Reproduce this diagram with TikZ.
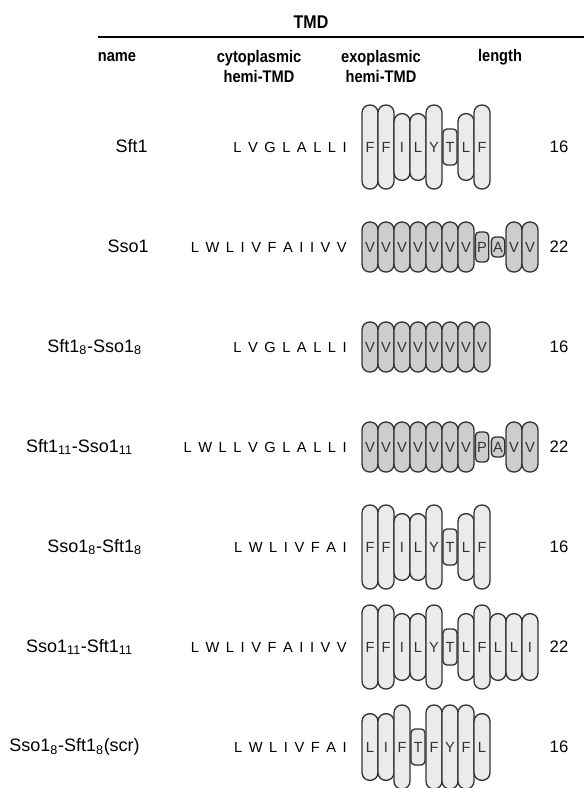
\documentclass[tikz,border=0pt]{standalone}
\usepackage{fontspec}
\setmainfont{Liberation Sans}
\newfontfamily\headfont[FakeStretch=0.87]{Liberation Sans}
\definecolor{pilllight}{RGB}{235,235,235}
\definecolor{pilldark}{RGB}{205,205,205}
\definecolor{pillline}{RGB}{50,50,50}
\tikzset{
  pill/.style={draw=pillline, line width=1pt, fill=pilllight, rounded corners=5.8pt,
    minimum width=12pt, inner sep=0pt, text=black!80, font=\fontsize{11}{12}\selectfont},
  dark/.style={fill=pilldark},
  res/.style={h#1},
  hF/.style={minimum height=63pt},
  hY/.style={minimum height=63pt},
  hI/.style={minimum height=50pt},
  hL/.style={minimum height=50pt},
  hV/.style={minimum height=37.5pt},
  hT/.style={minimum height=27pt, minimum width=10.5pt, rounded corners=3pt},
  hP/.style={minimum height=22.5pt, minimum width=10pt, rounded corners=3pt},
  hA/.style={minimum height=15pt, minimum width=10pt, rounded corners=3pt},
  seq/.style={anchor=east, inner sep=0pt, font=\fontsize{11}{13}\selectfont,
    execute at begin node={\spaceskip=4.9pt\relax}},
  rowname/.style={anchor=east, inner sep=0pt, font=\fontsize{13.5}{15}\selectfont},
  len/.style={inner sep=0pt, font=\fontsize{12.5}{14}\selectfont},
  head/.style={inner sep=0pt, align=center, font=\headfont\fontsize{12.6}{15}\selectfont\bfseries}
}
\begin{document}
\begin{tikzpicture}[x=0.75pt,y=0.75pt,yscale=-1,xscale=1]
\useasboundingbox (0,0) rectangle (584,788);
\node[head, font=\headfont\fontsize{13.8}{15}\selectfont\bfseries] (tmd) at (311,22) {TMD};
\draw[line width=1.5pt] (98,37) -- (584,37);
\node[head] (hname) at (117,57) {name};
\node[head] (hcyt) at (259,66) {cytoplasmic\\hemi-TMD};
\node[head] (hexo) at (381,66) {exoplasmic\\hemi-TMD};
\node[head] (hlen) at (500,57) {length};

\node[rowname] (n1) at (148,146) {Sft1};
\node[seq] (s1) at (347,147) {L V G L A L L I};
\foreach \r [count=\i] in {F,F,I,L,Y,T,L,F}
  \node[pill, res/.expanded=\r] (a\i) at (354+16*\i,147) {\r};
\node[len] (l1) at (559,147) {16};

\node[rowname] (n2) at (149,246) {Sso1};
\node[seq] (s2) at (347,247) {L W L I V F A I I V V};
\foreach \r [count=\i] in {V,V,V,V,V,V,V,P,A,V,V}
  \node[pill, dark, res/.expanded=\r] (b\i) at (354+16*\i,247) {\r};
\node[len] (l2) at (559,247) {22};

\node[rowname] (n3) at (142,347) {Sft1\textsubscript{8}-Sso1\textsubscript{8}};
\node[seq] (s3) at (347,347) {L V G L A L L I};
\foreach \r [count=\i] in {V,V,V,V,V,V,V,V}
  \node[pill, dark, res/.expanded=\r] (c\i) at (354+16*\i,347) {\r};
\node[len] (l3) at (559,347) {16};

\node[rowname] (n4) at (133,447) {Sft1\textsubscript{11}-Sso1\textsubscript{11}};
\node[seq] (s4) at (347,447) {L W L L V G L A L L I};
\foreach \r [count=\i] in {V,V,V,V,V,V,V,P,A,V,V}
  \node[pill, dark, res/.expanded=\r] (d\i) at (354+16*\i,447) {\r};
\node[len] (l4) at (559,447) {22};

\node[rowname] (n5) at (142,547) {Sso1\textsubscript{8}-Sft1\textsubscript{8}};
\node[seq] (s5) at (347,547) {L W L I V F A I};
\foreach \r [count=\i] in {F,F,I,L,Y,T,L,F}
  \node[pill, res/.expanded=\r] (e\i) at (354+16*\i,547) {\r};
\node[len] (l5) at (559,547) {16};

\node[rowname] (n6) at (133,647) {Sso1\textsubscript{11}-Sft1\textsubscript{11}};
\node[seq] (s6) at (347,647) {L W L I V F A I I V V};
\foreach \r [count=\i] in {F,F,I,L,Y,T,L,F,L,L,I}
  \node[pill, res/.expanded=\r] (f\i) at (354+16*\i,647) {\r};
\node[len] (l6) at (559,647) {22};

\node[rowname] (n7) at (140,747) {Sso1\textsubscript{8}-Sft1\textsubscript{8}(scr)};
\node[seq] (s7) at (347,747) {L W L I V F A I};
\foreach \r [count=\i] in {L,I,F,T,F,Y,F,L}
  \node[pill, res/.expanded=\r] (g\i) at (354+16*\i,747) {\r};
\node[len] (l7) at (559,747) {16};
\end{tikzpicture}
\end{document}
